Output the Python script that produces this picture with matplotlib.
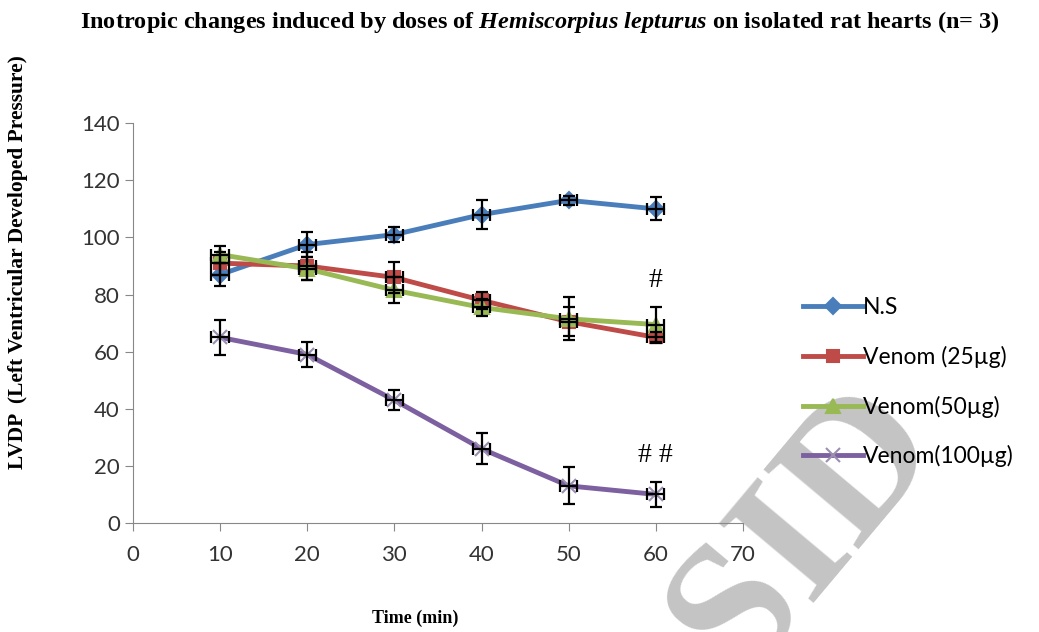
import matplotlib
matplotlib.use("Agg")
import matplotlib.pyplot as plt

# data
time = [10, 20, 30, 40, 50, 60]
ns = [87, 97.5, 101, 108, 113, 110]
ns_err = [4, 4.5, 2.5, 5, 1.5, 4]
v25 = [91, 90, 86, 78, 70.5, 65]
v25_err = [4, 5, 5.5, 3, 5, 2]
v50 = [94, 89, 81.5, 75.5, 71.5, 69.5]
v50_err = [3, 4, 4.5, 3, 7.5, 6]
v100 = [65, 59, 43, 26, 13, 10]
v100_err = [6, 4.5, 3.5, 5.5, 6.5, 4.5]
time_err = 1.0

labels = ["N.S", "Venom (25\u00b5g)", "Venom(50\u00b5g)", "Venom(100\u00b5g)"]

plt.rcParams['mathtext.fontset'] = 'custom'
plt.rcParams['mathtext.it'] = 'Liberation Serif:italic:bold'
plt.rcParams['mathtext.rm'] = 'Liberation Serif:bold'

fig = plt.figure(figsize=(10.39, 6.32), dpi=100)
ax = fig.add_axes([0.128, 0.1725, 0.587, 0.6325])
ax.patch.set_alpha(0)

series = [
    (ns, ns_err, "#4A7EBB", "D", 8),
    (v25, v25_err, "#BE4B48", "s", 9),
    (v50, v50_err, "#98B954", "^", 10),
    (v100, v100_err, "#7D60A0", "x", 10),
]

handles = []
for (vals, err, col, mk, ms), lab in zip(series, labels):
    h, = ax.plot(time, vals, color=col, lw=3.5, marker=mk, ms=ms,
                 mec=col if mk != "x" else "#9a8fb0", mew=1.5, label=lab, zorder=3)
    ax.errorbar(time, vals, yerr=err, xerr=time_err, fmt="none", ecolor="black",
                elinewidth=1.6, capsize=4, capthick=1.6, zorder=4)
    handles.append(h)

ax.set_xlim(0, 70)
ax.set_ylim(0, 140)
ax.set_xticks(range(0, 80, 10))
ax.set_yticks(range(0, 160, 20))
for s in ["top", "right"]:
    ax.spines[s].set_visible(False)
for s in ["left", "bottom"]:
    ax.spines[s].set_color("#888888")
ax.tick_params(colors="#888888", labelcolor="#333333", labelsize=16, length=6, direction="out")
for lbl in ax.get_xticklabels() + ax.get_yticklabels():
    lbl.set_family("Lato")
ax.tick_params(axis="x", pad=10)

ax.text(60, 85, "#", fontsize=20, family="Liberation Serif", ha="center", va="center")
ax.text(60, 23.5, "# #", fontsize=20, family="Liberation Serif", ha="center", va="center")

fig.legend(handles=handles, labels=labels, loc="center left",
           bbox_to_anchor=(0.753, 0.395), frameon=False, prop={"family": "Lato", "size": 16.5},
           handlelength=2.6, handletextpad=0.0, labelspacing=1.2)

fig.text(0.52, 0.965,
         r"Inotropic changes induced by doses of $Hemiscorpius\ lepturus$ on isolated rat hearts (n= 3)",
         ha="center", va="center", fontsize=17.5, fontweight="bold", family="Liberation Serif")
fig.text(0.4, 0.022, "Time (min)", ha="center", va="center", fontsize=13,
         fontweight="bold", family="Liberation Serif")
fig.text(0.017, 0.585, "LVDP  (Left Ventricular Developed Pressure)", rotation=90,
         ha="center", va="center", fontsize=15.5, fontweight="bold", family="Liberation Serif")

# watermark
fig.text(0.775, 0.16, "SID", rotation=50, fontsize=135, fontweight="bold",
         family="Liberation Serif", color="#c4c4c4", ha="center", va="center",
         zorder=-1)

fig.savefig("out.png", dpi=100)
